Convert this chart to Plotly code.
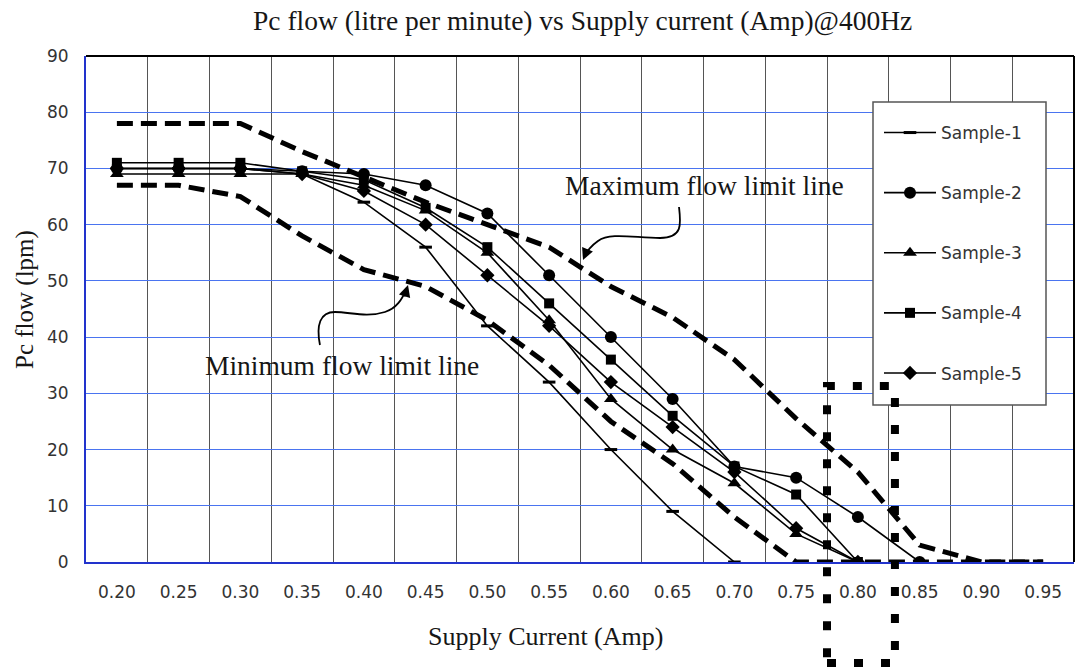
import plotly.graph_objects as go

# ---------------- data ----------------
current = [0.20, 0.25, 0.30, 0.35, 0.40, 0.45, 0.50, 0.55, 0.60, 0.65, 0.70, 0.75, 0.80, 0.85, 0.90, 0.95]
tick_labels = ["0.20", "0.25", "0.30", "0.35", "0.40", "0.45", "0.50", "0.55",
               "0.60", "0.65", "0.70", "0.75", "0.80", "0.85", "0.90", "0.95"]

sample_1 = [70, 70, 70, 69, 64, 56, 42, 32, 20, 9, 0]
sample_2 = [70, 70, 70, 69.5, 69, 67, 62, 51, 40, 29, 17, 15, 8, 0]
sample_3 = [69, 69, 69, 69, 67, 62.5, 55, 43, 29, 20, 14, 5, 0]
sample_4 = [71, 71, 71, 69.5, 68, 63, 56, 46, 36, 26, 17, 12, 0]
sample_5 = [70, 70, 70, 69, 66, 60, 51, 42, 32, 24, 16, 6, 0]

max_limit = [78, 78, 78, 73, 68.5, 64, 60, 56, 49, 43.5, 36, 25.5, 16, 3, 0, 0]
min_limit = [67, 67, 65, 58, 52, 49, 43, 35, 25, 17.5, 8, 0, 0, 0, 0, 0]

highlight_x = [0.775, 0.83]

# ---------------- geometry helpers ----------------
W, H = 1077, 670
ML, MR, MT, MB = 86, 3, 56, 108
PW = W - ML - MR
PH = H - MT - MB
XR = [0.175, 0.975]
YR = [0, 90]


def px(X):
    return (X - ML) / PW


def py(Y):
    return (H - MB - Y) / PH


def xdata_to_paper(v):
    return (v - XR[0]) / (XR[1] - XR[0])


fig = go.Figure()

# limit lines
fig.add_trace(go.Scatter(x=current, y=max_limit, mode="lines", showlegend=False,
                         line=dict(color="black", width=5, dash="16px,8px"), hoverinfo="skip"))
fig.add_trace(go.Scatter(x=current, y=min_limit, mode="lines", showlegend=False,
                         line=dict(color="black", width=5, dash="16px,8px"), hoverinfo="skip"))

samples = [
    ("Sample-1", sample_1, dict(symbol="line-ew", size=9, color="black", line=dict(width=3, color="black"))),
    ("Sample-2", sample_2, dict(symbol="circle", size=12, color="black")),
    ("Sample-3", sample_3, dict(symbol="triangle-up", size=12, color="black")),
    ("Sample-4", sample_4, dict(symbol="square", size=10, color="black")),
    ("Sample-5", sample_5, dict(symbol="diamond", size=11, color="black")),
]
for name, vals, mk in samples:
    fig.add_trace(go.Scatter(x=current[:len(vals)], y=vals, mode="lines+markers", name=name,
                             legendgroup=name, line=dict(color="black", width=1.6), marker=mk))

shapes = []
# top and right border
shapes.append(dict(type="line", xref="paper", yref="paper", x0=0, x1=1, y0=1, y1=1,
                   line=dict(color="black", width=2)))
shapes.append(dict(type="line", xref="paper", yref="paper", x0=1, x1=1, y0=0, y1=1,
                   line=dict(color="black", width=2)))
# legend box
shapes.append(dict(type="rect", xref="paper", yref="paper",
                   x0=px(873), x1=px(1046), y0=py(405), y1=py(102),
                   fillcolor="white", line=dict(color="#555", width=1.5), layer="above"))
# dotted highlight rectangle
shapes.append(dict(type="rect", xref="paper", yref="paper",
                   x0=xdata_to_paper(highlight_x[0]), x1=xdata_to_paper(highlight_x[1]),
                   y0=py(663), y1=py(386),
                   line=dict(color="black", width=8, dash="9px,18px"), layer="above"))


def curve(pts):
    s = "M %.4f %.4f" % (px(pts[0][0]), py(pts[0][1]))
    for i in range(1, len(pts), 3):
        a, b, c = pts[i], pts[i + 1], pts[i + 2]
        s += " C %.4f %.4f, %.4f %.4f, %.4f %.4f" % (px(a[0]), py(a[1]), px(b[0]), py(b[1]), px(c[0]), py(c[1]))
    return s


max_arrow = [(679, 207), (681, 224), (683, 238), (660, 238),
             (635, 238), (610, 232), (598, 241),
             (591, 246), (587, 251), (585, 256)]
min_arrow = [(320, 345), (316, 325), (320, 312), (335, 312),
             (350, 312), (366, 318), (385, 312),
             (397, 308), (402, 299), (406, 290)]
for c in (max_arrow, min_arrow):
    shapes.append(dict(type="path", xref="paper", yref="paper", path=curve(c),
                       line=dict(color="black", width=1.8)))

serif = "Liberation Serif"
txt = "#161616"
annotations = [
    dict(text="Pc flow (litre per minute) vs Supply current (Amp)@400Hz", x=px(582), y=py(21),
         font=dict(family=serif, size=27.5, color=txt)),
    dict(text="Supply Current (Amp)", x=px(545), y=py(636),
         font=dict(family=serif, size=26, color=txt)),
    dict(text="Pc flow (lpm)", x=px(25), y=py(300), textangle=-90,
         font=dict(family=serif, size=25, color=txt)),
    dict(text="Maximum flow limit line", x=px(704), y=py(186),
         font=dict(family=serif, size=27.5, color=txt)),
    dict(text="Minimum flow limit line", x=px(342), y=py(365),
         font=dict(family=serif, size=27.5, color=txt)),
]
for a in annotations:
    a.update(xref="paper", yref="paper", showarrow=False, xanchor="center", yanchor="middle")
# arrow heads
annotations += [
    dict(text="", xref="paper", yref="paper", x=px(583), y=py(260), ax=5, ay=-12, axref="pixel", ayref="pixel",
         showarrow=True, arrowhead=2, arrowsize=1.3, arrowwidth=1.8, arrowcolor="black"),
    dict(text="", xref="paper", yref="paper", x=px(408), y=py(285), ax=-4, ay=13, axref="pixel", ayref="pixel",
         showarrow=True, arrowhead=2, arrowsize=1.3, arrowwidth=1.8, arrowcolor="black"),
]

fig.update_layout(
    width=W, height=H,
    margin=dict(l=ML, r=MR, t=MT, b=MB),
    paper_bgcolor="white", plot_bgcolor="white",
    showlegend=True,
    legend=dict(x=px(879), y=py(115), xanchor="left", yanchor="top",
                bgcolor="rgba(0,0,0,0)", borderwidth=0,
                font=dict(family="DejaVu Sans", size=17, color="#333"),
                tracegroupgap=35, itemwidth=52),
    shapes=shapes, annotations=annotations,
    xaxis=dict(range=XR, tickvals=current, ticktext=tick_labels, showgrid=False,
               showline=True, linecolor="#2233cc", linewidth=2, zeroline=False, ticks="",
               ticklabelstandoff=14,
               tickfont=dict(family="DejaVu Sans", size=17, color="#333"),
               minor=dict(tick0=0.225, dtick=0.05, showgrid=True, gridcolor="#555", gridwidth=1.3)),
    yaxis=dict(range=YR, dtick=10, showgrid=True, gridcolor="#4a74f0", gridwidth=1.3,
               showline=True, linecolor="#2233cc", linewidth=2, zeroline=False, ticks="",
               ticklabelstandoff=12,
               tickfont=dict(family="DejaVu Sans", size=17, color="#333")),
)

fig.write_html("out.html", config={"displayModeBar": False},
               post_script="document.body.style.margin='0';document.body.style.overflow='hidden';")
